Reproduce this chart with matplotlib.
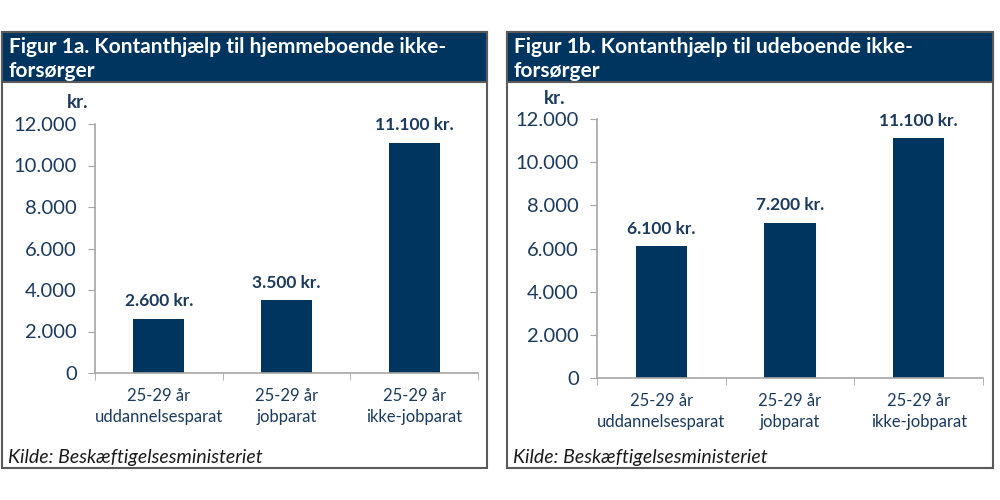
import matplotlib
matplotlib.use("Agg")
import matplotlib.pyplot as plt
from matplotlib.patches import Rectangle

plt.rcParams['font.family'] = ['Lato', 'DejaVu Sans']

# data
categories = ["25-29 år\nuddannelsesparat", "25-29 år\njobparat", "25-29 år\nikke-jobparat"]
values_1a = [2600, 3500, 11100]
values_1b = [6100, 7200, 11100]
labels_1a = ["2.600 kr.", "3.500 kr.", "11.100 kr."]
labels_1b = ["6.100 kr.", "7.200 kr.", "11.100 kr."]
yticks = [0, 2000, 4000, 6000, 8000, 10000, 12000]
ytick_labels = ["0", "2.000", "4.000", "6.000", "8.000", "10.000", "12.000"]
title_1a = "Figur 1a. Kontanthjælp til hjemmeboende ikke-\nforsørger"
title_1b = "Figur 1b. Kontanthjælp til udeboende ikke-\nforsørger"
source = "Kilde: Beskæftigelsesministeriet"

NAVY = '#003560'
TXT = '#1B3A5E'
SPINE = '#A6A6A6'
FRAME = '#5A5A5A'

W, H = 1000, 500
fig = plt.figure(figsize=(10, 5), dpi=100)
fig.patch.set_facecolor('white')


def fx(px):
    return px / W


def fy(py):
    return 1 - py / H


def panel(x0, x1, ax_box, values, labels, title, kr_pos):
    # outer frame + header band
    top, head_bot, bot = 32, 82, 468
    fig.patches.append(Rectangle((fx(x0), fy(bot)), fx(x1 - x0), (bot - top) / H,
                                 transform=fig.transFigure, facecolor='white',
                                 edgecolor=FRAME, linewidth=1.5, zorder=0))
    fig.patches.append(Rectangle((fx(x0), fy(head_bot)), fx(x1 - x0), (head_bot - top) / H,
                                 transform=fig.transFigure, facecolor=NAVY,
                                 edgecolor=FRAME, linewidth=1.5, zorder=1))
    fig.text(fx(x0 + 7), fy(59), title, ha='left', va='center', color='white',
             fontsize=15, fontweight='bold', linespacing=1.2, zorder=5)
    fig.text(fx(x0 + 6), fy(457), source, ha='left', va='center', color='#1a1a1a',
             fontsize=14, style='italic', zorder=5)

    l, t, r, b = ax_box
    ax = fig.add_axes([fx(l), fy(b), fx(r - l), (b - t) / H])
    ax.set_zorder(3)
    ax.patch.set_alpha(0)
    x = range(len(values))
    ax.bar(x, values, width=0.4, color=NAVY, zorder=2)
    for xi, v, lab in zip(x, values, labels):
        ax.annotate(lab, (xi, v), xytext=(0, 7), textcoords='offset points',
                    ha='center', va='bottom', fontsize=12.5, fontweight='bold',
                    color=TXT, annotation_clip=False)
    ax.set_xlim(-0.5, 2.5)
    ax.set_ylim(0, 12000)
    ax.set_yticks(yticks)
    ax.set_yticklabels(ytick_labels)
    ax.set_xticks(list(x))
    ax.set_xticklabels(categories, linespacing=1.35)
    ax.set_xticks([-0.5, 0.5, 1.5, 2.5], minor=True)
    ax.tick_params(axis='x', which='major', length=0, pad=11, labelsize=12, labelcolor=TXT)
    ax.tick_params(axis='x', which='minor', length=5, color=SPINE, direction='out')
    ax.tick_params(axis='y', length=5, color=SPINE, pad=8, labelsize=14.5, labelcolor=TXT)
    for s in ('top', 'right'):
        ax.spines[s].set_visible(False)
    for s in ('left', 'bottom'):
        ax.spines[s].set_color(SPINE)
        ax.spines[s].set_linewidth(1.2)
    kx, ky = kr_pos
    fig.text(fx(kx), fy(ky), "kr.", ha='center', va='center',
             fontsize=13.5, fontweight='bold', color=TXT, zorder=5)
    return ax


panel(2, 487, (95, 124, 478, 373), values_1a, labels_1a, title_1a, (78, 103))
panel(507, 993, (597, 119, 983, 378), values_1b, labels_1b, title_1b, (555, 99))

fig.savefig("out.png", dpi=100, facecolor='white')
